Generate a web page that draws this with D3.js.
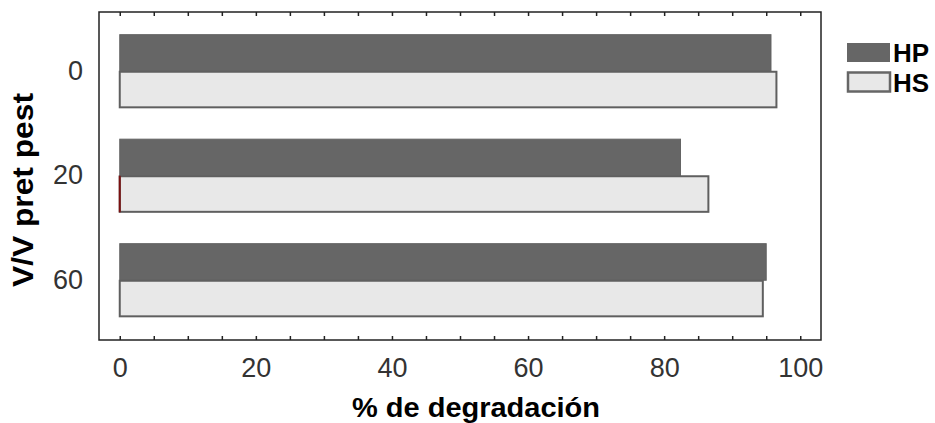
<!DOCTYPE html>
<html><head><meta charset="utf-8">
<script src="https://cdn.jsdelivr.net/npm/d3@7"></script>
<style>body{margin:0;background:#fff}svg{display:block}</style>
</head><body><svg id="c" width="935" height="423"></svg>
<script>
const categories = ["0", "20", "60"];
const seriesNames = ["HP", "HS"];
const hpValues = [95.7, 82.4, 95.0];
const hsValues = [96.5, 86.5, 94.5];
const xTicks = [0, 20, 40, 60, 80, 100];
const xMinorTicks = d3.range(0, 101, 5);

const svg = d3.select("#c");
const frame = {l: 99, t: 12, r: 821, b: 340};
const x = d3.scaleLinear().domain([-3.05, 103.05]).range([frame.l, frame.r]);
const y = d3.scaleBand().domain(categories).range([19, 332.5]).paddingInner(0.3).paddingOuter(0.15);
const sub = d3.scaleBand().domain(seriesNames).range([0, y.bandwidth()]);
const fills = {HP: "#666666", HS: "#e8e8e8"};
const font = "'Liberation Sans', Arial, sans-serif";

const data = categories.map((c, i) => ({cat: c, HP: hpValues[i], HS: hsValues[i]}));

// bars
const g = svg.append("g");
data.forEach(d => {
  seriesNames.forEach(s => {
    const isHS = s === "HS";
    g.append("rect")
      .attr("x", x(0))
      .attr("y", y(d.cat) + sub(s) + (isHS ? 0.5 : 0))
      .attr("width", x(d[s]) - x(0))
      .attr("height", sub.bandwidth() - (isHS ? 1 : 0))
      .attr("fill", fills[s])
      .attr("stroke", isHS ? "#5f5f5f" : "#626262")
      .attr("stroke-width", isHS ? 2 : 1);
  });
});
// small dark red edge on 20 HS
g.append("line")
  .attr("x1", x(0)).attr("x2", x(0))
  .attr("y1", y("20") + sub("HS")).attr("y2", y("20") + sub("HS") + sub.bandwidth())
  .attr("stroke", "#7a1010").attr("stroke-width", 2);

// frame
svg.append("rect").attr("x", frame.l).attr("y", frame.t)
  .attr("width", frame.r - frame.l).attr("height", frame.b - frame.t)
  .attr("fill", "none").attr("stroke", "#222").attr("stroke-width", 1.5);

// ticks inward top & bottom
const tickLen = 4;
svg.append("g").attr("transform", `translate(0,${frame.b})`)
  .call(d3.axisBottom(x).tickValues(xMinorTicks).tickSize(-tickLen).tickFormat(""))
  .call(a => a.select(".domain").remove())
  .call(a => a.selectAll("line").attr("stroke", "#222").attr("stroke-width", 1.5));
svg.append("g").attr("transform", `translate(0,${frame.t})`)
  .call(d3.axisTop(x).tickValues(xMinorTicks).tickSize(-tickLen).tickFormat(""))
  .call(a => a.select(".domain").remove())
  .call(a => a.selectAll("line").attr("stroke", "#222").attr("stroke-width", 1.5));

// x tick labels
svg.append("g").attr("transform", `translate(0,${frame.b})`)
  .call(d3.axisBottom(x).tickValues(xTicks).tickSize(0).tickFormat(d3.format("d")))
  .call(a => a.select(".domain").remove())
  .call(a => a.selectAll("text").attr("font-family", font).attr("font-size", 27).attr("fill", "#333")
    .attr("y", 37).attr("dy", 0));

// y tick labels
svg.append("g").attr("transform", `translate(${frame.l},0)`)
  .call(d3.axisLeft(y).tickSize(0).tickPadding(16))
  .call(a => a.select(".domain").remove())
  .call(a => a.selectAll("text").attr("font-family", font).attr("font-size", 27).attr("fill", "#333"));

// axis titles
svg.append("text").attr("x", 476).attr("y", 417).attr("text-anchor", "middle")
  .attr("font-family", font).attr("font-weight", "bold").attr("font-size", 28).attr("fill", "#000")
  .attr("textLength", 248).attr("lengthAdjust", "spacingAndGlyphs")
  .text("% de degradación");
svg.append("text").attr("transform", "translate(33,190) rotate(-90)").attr("text-anchor", "middle")
  .attr("font-family", font).attr("font-weight", "bold").attr("font-size", 29).attr("fill", "#000")
  .attr("textLength", 194).attr("lengthAdjust", "spacingAndGlyphs")
  .text("V/V pret pest");

// legend
const leg = svg.append("g").attr("transform", "translate(847,43)");
seriesNames.forEach((s, i) => {
  const row = leg.append("g").attr("transform", `translate(0,${i * 30})`);
  row.append("rect").attr("x", s === "HS" ? 1 : 0).attr("y", s === "HS" ? -0.5 : 0)
    .attr("width", s === "HS" ? 42 : 43).attr("height", 19)
    .attr("fill", fills[s]).attr("stroke", s === "HS" ? "#666" : "none").attr("stroke-width", 2.5);
  row.append("text").attr("x", 46).attr("y", 19)
    .attr("font-family", font).attr("font-weight", "bold").attr("font-size", 26).attr("fill", "#000")
    .text(s);
});
</script></body></html>
